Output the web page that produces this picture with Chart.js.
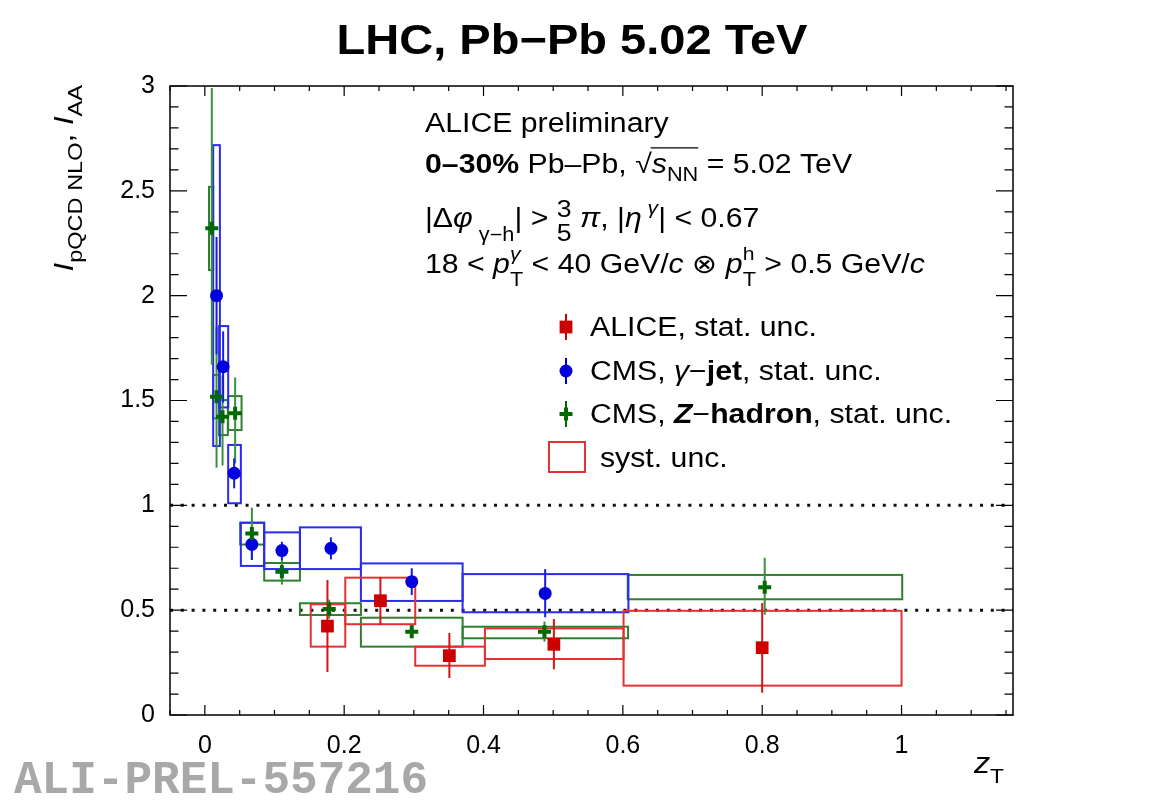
<!DOCTYPE html>
<html>
<head>
<meta charset="utf-8">
<script src="https://cdn.jsdelivr.net/npm/chart.js@4.4.1/dist/chart.umd.min.js"></script>
<style>
  html, body { margin: 0; background: #fff; }
  canvas { display: block; }
</style>
</head>
<body>
<canvas id="c" width="1163" height="801"></canvas>
<script>
// ALICE gamma-hadron, stat + syst
const aliceZ      = [0.176, 0.252, 0.351, 0.501, 0.800];
const aliceI      = [0.424, 0.545, 0.283, 0.337, 0.321];
const aliceStatLo = [0.205, 0.429, 0.176, 0.218, 0.106];
const aliceStatHi = [0.644, 0.658, 0.391, 0.458, 0.534];
const aliceBoxZLo = [0.152, 0.2016, 0.302, 0.402, 0.601];
const aliceBoxZHi = [0.2016, 0.302, 0.402, 0.601, 1.0];
const aliceBoxLo  = [0.326, 0.433, 0.235, 0.267, 0.140];
const aliceBoxHi  = [0.528, 0.655, 0.326, 0.413, 0.497];

// CMS gamma-jet
const jetZ      = [0.0168, 0.0263, 0.0421, 0.0675, 0.1106, 0.181, 0.297, 0.4885];
const jetI      = [2.00, 1.661, 1.153, 0.814, 0.784, 0.795, 0.636, 0.580];
const jetStatLo = [1.72, 1.49, 1.081, 0.739, 0.739, 0.742, 0.572, 0.466];
const jetStatHi = [2.28, 1.83, 1.224, 0.849, 0.826, 0.847, 0.700, 0.696];
const jetBoxZLo = [0.012, 0.0205, 0.0335, 0.0517, 0.0852, 0.1365, 0.224, 0.370];
const jetBoxZHi = [0.0216, 0.0335, 0.0517, 0.0852, 0.1365, 0.224, 0.370, 0.608];
const jetBoxLo  = [1.283, 1.467, 1.010, 0.711, 0.696, 0.696, 0.544, 0.490];
const jetBoxHi  = [2.718, 1.855, 1.288, 0.917, 0.871, 0.895, 0.723, 0.672];

// CMS Z-hadron
const zhZ      = [0.010, 0.0168, 0.0254, 0.0435, 0.0675, 0.1106, 0.1786, 0.297, 0.4875, 0.8036];
const zhI      = [2.321, 1.518, 1.423, 1.439, 0.866, 0.683, 0.505, 0.397, 0.397, 0.609];
const zhStatLo = [1.67, 1.18, 1.19, 1.20, 0.742, 0.622, 0.46, 0.37, 0.35, 0.478];
const zhStatHi = [2.99, 1.85, 1.62, 1.61, 0.989, 0.740, 0.55, 0.43, 0.446, 0.750];
const zhBoxZLo = [0.006, 0.012, 0.0205, 0.0335, 0.0507, 0.0852, 0.1365, 0.224, 0.370, 0.607];
const zhBoxZHi = [0.012, 0.0205, 0.033, 0.0527, 0.0852, 0.1365, 0.224, 0.370, 0.6075, 1.001];
const zhBoxLo  = [2.122, 1.415, 1.335, 1.359, 0.813, 0.641, 0.477, 0.326, 0.366, 0.552];
const zhBoxHi  = [2.519, 1.621, 1.502, 1.521, 0.917, 0.725, 0.533, 0.464, 0.421, 0.668];

// axes
const xMajor = [0, 0.2, 0.4, 0.6, 0.8, 1];
const yMajor = [0, 0.5, 1, 1.5, 2, 2.5, 3];
const refLines = [1, 0.5];

const FAM = '"Liberation Sans", "DejaVu Sans", sans-serif';
const SX = 1.12;

const RED = '#cc0000', RED_BOX = '#e33232';
const BLUE = '#0000dd', BLUE_BOX = '#2a2af2';
const GREEN = '#006a00', GREEN_BOX = '#2f7f2f';

function pts(xs, ys) { return xs.map((x, i) => ({ x: x, y: ys[i] })); }

function fontOf(s, size) {
  return (s.i ? 'italic ' : '') + (s.b ? 'bold ' : '') + (size * (s.sz || 1)).toFixed(1) + 'px ' + FAM;
}

// rich text: segments with italic / bold / sub / sup, optional sqrt overline
function runRich(ctx, segs, size, draw) {
  let x = 0, lastX = 0, overX = 0;
  for (const s of segs) {
    if (s.overEnd) {
      if (draw) {
        ctx.save();
        ctx.lineWidth = 1.4;
        ctx.beginPath();
        ctx.moveTo(overX - 1, -size * 0.93);
        ctx.lineTo(x, -size * 0.93);
        ctx.stroke();
        ctx.restore();
      }
      continue;
    }
    ctx.font = fontOf(s, size);
    const w = ctx.measureText(s.t).width;
    const at = s.stack ? lastX : x;
    if (draw) ctx.fillText(s.t, at, (s.dy || 0) * size);
    if (s.stack) x = Math.max(x, at + w);
    else { lastX = x; x += w; }
    if (s.sqrt) overX = x;
  }
  return x;
}

function rich(ctx, segs, size, x, y, align, rot) {
  ctx.save();
  ctx.textBaseline = 'alphabetic';
  ctx.textAlign = 'left';
  ctx.fillStyle = '#000';
  ctx.strokeStyle = '#000';
  const w = runRich(ctx, segs, size, false);
  ctx.translate(x, y);
  if (rot) ctx.rotate(rot);
  ctx.scale(SX, 1);
  if (align === 'center') ctx.translate(-w / 2, 0);
  else if (align === 'right') ctx.translate(-w, 0);
  runRich(ctx, segs, size, true);
  ctx.restore();
}

function drawMarker(ctx, kind, x, y, color) {
  ctx.save();
  ctx.fillStyle = color;
  ctx.strokeStyle = color;
  if (kind === 'rect') {
    ctx.fillRect(x - 6.4, y - 6.4, 12.8, 12.8);
  } else if (kind === 'circle') {
    ctx.beginPath();
    ctx.arc(x, y, 6.5, 0, Math.PI * 2);
    ctx.fill();
  } else {
    ctx.lineWidth = 4;
    ctx.beginPath();
    ctx.moveTo(x - 6.5, y); ctx.lineTo(x + 6.5, y);
    ctx.moveTo(x, y - 6.5); ctx.lineTo(x, y + 6.5);
    ctx.stroke();
  }
  ctx.restore();
}

const series = [
  { z: zhZ, lo: zhStatLo, hi: zhStatHi, bzl: zhBoxZLo, bzh: zhBoxZHi, bl: zhBoxLo, bh: zhBoxHi, c: '#3a8f3a', bc: GREEN_BOX },
  { z: jetZ, lo: jetStatLo, hi: jetStatHi, bzl: jetBoxZLo, bzh: jetBoxZHi, bl: jetBoxLo, bh: jetBoxHi, c: '#1a1ae6', bc: BLUE_BOX },
  { z: aliceZ, lo: aliceStatLo, hi: aliceStatHi, bzl: aliceBoxZLo, bzh: aliceBoxZHi, bl: aliceBoxLo, bh: aliceBoxHi, c: '#d41515', bc: RED_BOX }
];

const rootPlugin = {
  id: 'rootStyle',
  beforeDatasetsDraw(chart) {
    const ctx = chart.ctx, xs = chart.scales.x, ys = chart.scales.y, a = chart.chartArea;
    ctx.save();
    // reference dotted lines
    ctx.strokeStyle = '#111';
    ctx.lineWidth = 3;
    ctx.setLineDash([3, 7.8]);
    refLines.forEach(v => {
      const py = ys.getPixelForValue(v);
      ctx.beginPath();
      ctx.moveTo(a.left, py);
      ctx.lineTo(a.right, py);
      ctx.stroke();
    });
    ctx.setLineDash([]);
    // syst boxes
    series.forEach(s => {
      ctx.strokeStyle = s.bc;
      ctx.lineWidth = 2;
      s.bzl.forEach((zl, i) => {
        const x0 = xs.getPixelForValue(zl), x1 = xs.getPixelForValue(s.bzh[i]);
        const y0 = ys.getPixelForValue(s.bh[i]), y1 = ys.getPixelForValue(s.bl[i]);
        ctx.strokeRect(x0, y0, x1 - x0, y1 - y0);
      });
    });
    // stat error bars
    series.forEach(s => {
      ctx.strokeStyle = s.c;
      ctx.lineWidth = 2;
      s.z.forEach((z, i) => {
        const px = xs.getPixelForValue(z);
        ctx.beginPath();
        ctx.moveTo(px, ys.getPixelForValue(s.lo[i]));
        ctx.lineTo(px, ys.getPixelForValue(s.hi[i]));
        ctx.stroke();
      });
    });
    ctx.restore();
  },
  afterDraw(chart) {
    const ctx = chart.ctx, xs = chart.scales.x, ys = chart.scales.y, a = chart.chartArea;
    ctx.save();
    // frame
    ctx.strokeStyle = '#000';
    ctx.lineWidth = 1.5;
    ctx.strokeRect(a.left, a.top, a.right - a.left, a.bottom - a.top);
    // inward ticks on all four sides
    ctx.lineWidth = 1.2;
    ctx.beginPath();
    xs.ticks.forEach(t => {
      const px = xs.getPixelForValue(t.value);
      const major = Math.abs(t.value / 0.2 - Math.round(t.value / 0.2)) < 1e-6;
      const len = major ? 10 : 5;
      ctx.moveTo(px, a.bottom); ctx.lineTo(px, a.bottom - len);
      ctx.moveTo(px, a.top); ctx.lineTo(px, a.top + len);
    });
    ys.ticks.forEach(t => {
      const py = ys.getPixelForValue(t.value);
      const major = Math.abs(t.value / 0.5 - Math.round(t.value / 0.5)) < 1e-6;
      const len = major ? 17 : 8.5;
      ctx.moveTo(a.left, py); ctx.lineTo(a.left + len, py);
      ctx.moveTo(a.right, py); ctx.lineTo(a.right - len, py);
    });
    ctx.stroke();
    ctx.restore();

    // title
    rich(ctx, [{ t: 'LHC, Pb\u2212Pb 5.02 TeV', b: 1 }], 42, 572, 54, 'center');

    // axis titles
    rich(ctx, [{ t: 'I', i: 1 }, { t: 'pQCD NLO', sz: 0.75, dy: 0.33 }, { t: ', ' }, { t: 'I', i: 1 }, { t: 'AA', sz: 0.75, dy: 0.33 }],
      28, 73, 85, 'right', -Math.PI / 2);
    rich(ctx, [{ t: 'z', i: 1 }, { t: 'T', sz: 0.7, dy: 0.36 }], 29, 1004, 773, 'right');

    // annotation block
    const F = 27, X0 = 425;
    rich(ctx, [{ t: 'ALICE preliminary' }], F, X0, 132, 'left');
    rich(ctx, [{ t: '0\u201330%', b: 1 }, { t: ' Pb\u2013Pb, ' }, { t: '\u221A', sqrt: 1 }, { t: 's', i: 1 },
      { t: 'NN', sz: 0.72, dy: 0.3 }, { overEnd: 1 }, { t: ' = 5.02 TeV' }], F, X0, 173, 'left');
    rich(ctx, [{ t: '|\u0394' }, { t: '\u03C6', i: 1 }, { t: ' \u03B3\u2212h', sz: 0.72, dy: 0.5 }, { t: '| > ' },
      { t: '3', sz: 0.88, dy: -0.38 }, { t: '5', sz: 0.88, dy: 0.5, stack: 1 }, { t: ' ' }, { t: '\u03C0', i: 1 }, { t: ', |' },
      { t: '\u03B7', i: 1 }, { t: ' \u03B3', sz: 0.7, i: 1, dy: -0.5 }, { t: '| < 0.67' }], F, X0, 227, 'left');
    rich(ctx, [{ t: '18 < ' }, { t: 'p', i: 1 }, { t: 'T', sz: 0.72, dy: 0.48 }, { t: '\u03B3', sz: 0.7, i: 1, dy: -0.5, stack: 1 },
      { t: ' < 40 GeV/' }, { t: 'c', i: 1 }, { t: ' \u2297 ' }, { t: 'p', i: 1 }, { t: 'T', sz: 0.72, dy: 0.48 },
      { t: 'h', sz: 0.7, dy: -0.5, stack: 1 }, { t: ' > 0.5 GeV/' }, { t: 'c', i: 1 }], F, X0, 273, 'left');

    // legend
    const LX = 566, TX = 590;
    const rows = [
      { y: 327, kind: 'rect', c: RED, segs: [{ t: 'ALICE, stat. unc.' }] },
      { y: 371, kind: 'circle', c: BLUE, segs: [{ t: 'CMS, ' }, { t: '\u03B3', i: 1 }, { t: '\u2212' }, { t: 'jet', b: 1 }, { t: ', stat. unc.' }] },
      { y: 414, kind: 'cross', c: GREEN, segs: [{ t: 'CMS, ' }, { t: 'Z', b: 1, i: 1 }, { t: '\u2212' }, { t: 'hadron', b: 1 }, { t: ', stat. unc.' }] }
    ];
    rows.forEach(r => {
      ctx.save();
      ctx.strokeStyle = r.c;
      ctx.lineWidth = 2;
      ctx.beginPath();
      ctx.moveTo(LX, r.y - 13); ctx.lineTo(LX, r.y + 13);
      ctx.stroke();
      ctx.restore();
      drawMarker(ctx, r.kind, LX, r.y, r.c);
      rich(ctx, r.segs, F, TX, r.y + 9, 'left');
    });
    ctx.save();
    ctx.strokeStyle = RED_BOX;
    ctx.lineWidth = 2;
    ctx.strokeRect(549, 442, 36, 30);
    ctx.restore();
    rich(ctx, [{ t: 'syst. unc.' }], F, 600, 467, 'left');

    // preliminary watermark
    ctx.save();
    ctx.font = 'bold 46px "Liberation Mono", "DejaVu Sans Mono", monospace';
    ctx.fillStyle = '#a8a8a8';
    ctx.textBaseline = 'alphabetic';
    ctx.fillText('ALI-PREL-557216', 14, 793);
    ctx.restore();
  }
};

new Chart(document.getElementById('c'), {
  type: 'scatter',
  data: {
    datasets: [
      { label: 'CMS, Z-hadron', data: pts(zhZ, zhI), pointStyle: 'cross', radius: 6.5, borderWidth: 4, borderColor: GREEN, backgroundColor: GREEN },
      { label: 'CMS, gamma-jet', data: pts(jetZ, jetI), pointStyle: 'circle', radius: 6.5, borderWidth: 0, backgroundColor: BLUE },
      { label: 'ALICE', data: pts(aliceZ, aliceI), pointStyle: 'rect', radius: 9, borderWidth: 0, backgroundColor: RED }
    ]
  },
  options: {
    responsive: false,
    animation: false,
    events: [],
    layout: { padding: { top: 86, right: 150, left: 0, bottom: 0 } },
    plugins: { legend: { display: false }, tooltip: { enabled: false } },
    scales: {
      x: {
        type: 'linear',
        min: -0.05,
        max: 1.16,
        grid: { display: false, drawTicks: false },
        border: { display: false },
        afterBuildTicks: s => {
          const t = [];
          for (let k = -1; k <= 23; k++) t.push({ value: +(k * 0.05).toFixed(2) });
          s.ticks = t;
        },
        afterFit: s => { s.height = 86; },
        ticks: {
          autoSkip: false,
          maxRotation: 0,
          padding: 16,
          color: '#000',
          font: { family: 'Liberation Sans', size: 25 },
          callback: v => (xMajor.some(m => Math.abs(m - v) < 1e-6) ? String(Math.round(v * 10) / 10) : '')
        }
      },
      y: {
        type: 'linear',
        min: 0,
        max: 3,
        grid: { display: false, drawTicks: false },
        border: { display: false },
        afterBuildTicks: s => {
          const t = [];
          for (let k = 0; k <= 30; k++) t.push({ value: +(k * 0.1).toFixed(1) });
          s.ticks = t;
        },
        afterFit: s => { s.width = 170; },
        ticks: {
          autoSkip: false,
          padding: 15,
          color: '#000',
          font: { family: 'Liberation Sans', size: 25 },
          callback: v => (yMajor.some(m => Math.abs(m - v) < 1e-6) ? String(v) : '')
        }
      }
    }
  },
  plugins: [rootPlugin]
});
</script>
</body>
</html>
